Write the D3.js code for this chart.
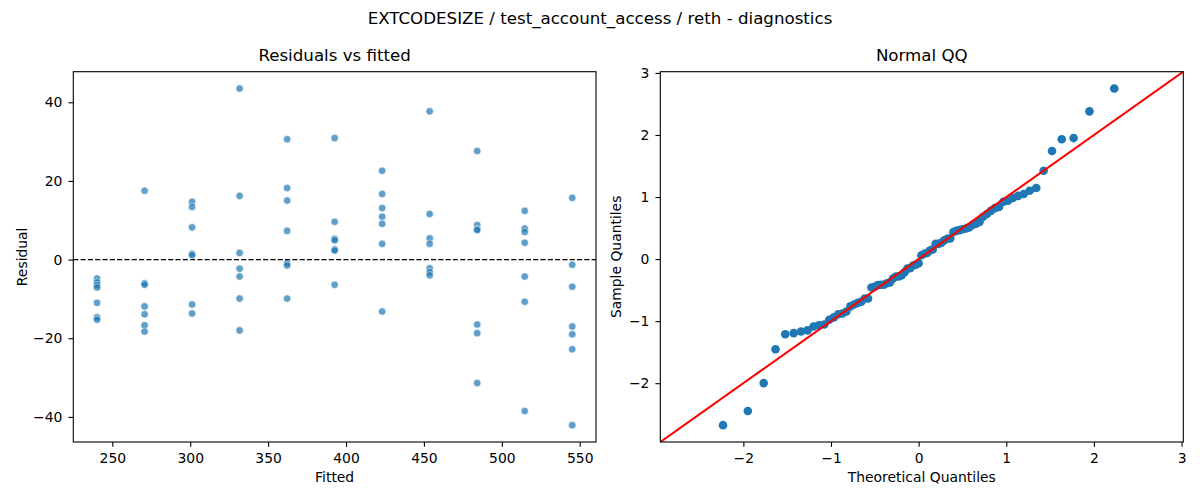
<!DOCTYPE html>
<html>
<head>
<meta charset="utf-8">
<script src="https://cdn.jsdelivr.net/npm/d3@7"></script>
<style>
  body { margin: 0; background: #fff; }
  text { font-family: "DejaVu Sans", sans-serif; fill: #000; }
</style>
</head>
<body>
<svg id="chart" width="1200" height="500"></svg>
<script>
// fitted values (one per group) and the residuals read for each group
var fitted = [240.2, 270.7, 301.2, 331.7, 362.2, 392.7, 423.2, 453.7, 484.2, 514.7, 545.2];
var residuals = [
  [-4.8, -5.8, -6.5, -7.1, -11.0, -14.7, -15.3],
  [17.5, -6.0, -6.4, -11.9, -13.9, -16.7, -18.3],
  [14.7, 13.4, 8.2, 1.5, 1.1, -11.4, -13.7],
  [43.5, 16.2, 1.7, -2.3, -4.3, -9.9, -18.0],
  [30.6, 18.2, 15.0, 7.3, -0.9, -1.5, -9.9],
  [30.9, 9.6, 5.3, 4.9, 2.6, 2.3, -6.4],
  [22.6, 16.7, 13.1, 10.9, 9.1, 4.0, -13.2],
  [37.7, 11.6, 5.4, 4.0, -2.2, -3.2, -4.0],
  [27.6, 8.8, 7.7, 7.5, -16.5, -18.7, -31.4],
  [12.4, 7.9, 7.0, 4.3, -4.3, -10.7, -38.5],
  [15.7, -1.3, -6.9, -17.0, -19.0, -22.8, -42.1]
];

// theoretical normal quantiles for n = 77 (plotting positions i/(n+1))
var theoretical = [
  -2.232, -1.949, -1.768, -1.633, -1.522, -1.426, -1.342, -1.267, -1.199, -1.135,
  -1.076, -1.020, -0.967, -0.917, -0.869, -0.824, -0.779, -0.736, -0.695, -0.654,
  -0.615, -0.577, -0.539, -0.502, -0.466, -0.431, -0.396, -0.361, -0.327, -0.293,
  -0.260, -0.227, -0.194, -0.161, -0.129, -0.097, -0.064, -0.032, 0.000,
  0.032, 0.064, 0.097, 0.129, 0.161, 0.194, 0.227, 0.260, 0.293, 0.327,
  0.361, 0.396, 0.431, 0.466, 0.502, 0.539, 0.577, 0.615, 0.654, 0.695,
  0.736, 0.779, 0.824, 0.869, 0.917, 0.967, 1.020, 1.076, 1.135, 1.199,
  1.267, 1.342, 1.426, 1.522, 1.633, 1.768, 1.949, 2.232
];

var title = "EXTCODESIZE / test_account_access / reth - diagnostics";

var svg = d3.select("#chart");
var tickLen = 4.86;
var fontTick = 13.9;
var fontTitle = 16.67;
var intFmt = d3.format("d");

// axes boxes, measured in the figure
var left = { x0: 73.3, x1: 596, y0: 71.7, y1: 442 };
var right = { x0: 660.3, x1: 1183.3, y0: 71.7, y1: 442 };

// matplotlib style 5% margins
function pad(ext) {
  var r = ext[1] - ext[0];
  return [ext[0] - 0.05 * r, ext[1] + 0.05 * r];
}

var points = [];
fitted.forEach(function(f, i) {
  residuals[i].forEach(function(r) { points.push({ fitted: f, resid: r }); });
});

svg.append("rect").attr("width", 1200).attr("height", 500).attr("fill", "#fff");

svg.append("text")
  .attr("x", 600).attr("y", 24)
  .attr("text-anchor", "middle")
  .style("font-size", fontTitle + "px")
  .text(title);

function drawAxes(box, x, y, xTicks, yTicks) {
  var g = svg.append("g");
  g.append("g")
    .attr("transform", "translate(0," + box.y1 + ")")
    .call(d3.axisBottom(x).tickValues(xTicks).tickFormat(intFmt)
      .tickSize(tickLen).tickPadding(6).tickSizeOuter(0))
    .call(function(a) { a.select(".domain").remove(); })
    .call(function(a) {
      a.selectAll("line").attr("stroke", "#000").attr("stroke-width", 1.1);
      a.selectAll("text").style("font-size", fontTick + "px")
        .style("font-family", "DejaVu Sans").attr("fill", "#000");
    });
  g.append("g")
    .attr("transform", "translate(" + box.x0 + ",0)")
    .call(d3.axisLeft(y).tickValues(yTicks).tickFormat(intFmt)
      .tickSize(tickLen).tickPadding(6).tickSizeOuter(0))
    .call(function(a) { a.select(".domain").remove(); })
    .call(function(a) {
      a.selectAll("line").attr("stroke", "#000").attr("stroke-width", 1.1);
      a.selectAll("text").style("font-size", fontTick + "px")
        .style("font-family", "DejaVu Sans").attr("fill", "#000");
    });
  return g;
}

function drawFrame(box) {
  svg.append("rect")
    .attr("x", box.x0).attr("y", box.y0)
    .attr("width", box.x1 - box.x0).attr("height", box.y1 - box.y0)
    .attr("fill", "none").attr("stroke", "#000").attr("stroke-width", 1.1);
}

////////////////////////////////////////////////////////////////////////
// Residuals vs fitted

var x1 = d3.scaleLinear()
  .domain(pad(d3.extent(points, function(d) { return d.fitted; })))
  .range([left.x0, left.x1]);
var y1 = d3.scaleLinear()
  .domain(pad(d3.extent(points, function(d) { return d.resid; })))
  .range([left.y1, left.y0]);

svg.append("clipPath").attr("id", "clipL").append("rect")
  .attr("x", left.x0).attr("y", left.y0)
  .attr("width", left.x1 - left.x0).attr("height", left.y1 - left.y0);

var gL = svg.append("g").attr("clip-path", "url(#clipL)");

gL.selectAll(".dot")
  .data(points)
  .enter()
  .append("circle")
  .attr("class", "dot")
  .attr("cx", function(d) { return x1(d.fitted); })
  .attr("cy", function(d) { return y1(d.resid); })
  .attr("r", 3.8)
  .attr("fill", "#1f77b4")
  .attr("stroke", "#fff")
  .attr("stroke-width", 0.7)
  .attr("opacity", 0.7);

gL.append("line")
  .attr("x1", left.x0).attr("x2", left.x1)
  .attr("y1", y1(0)).attr("y2", y1(0))
  .attr("stroke", "#000")
  .attr("stroke-width", 1.39)
  .attr("stroke-dasharray", "5.1 2.2");

drawAxes(left, x1, y1, x1.ticks(7), y1.ticks(5));
drawFrame(left);

svg.append("text")
  .attr("x", (left.x0 + left.x1) / 2).attr("y", 61)
  .attr("text-anchor", "middle")
  .style("font-size", fontTitle + "px")
  .text("Residuals vs fitted");

svg.append("text")
  .attr("x", (left.x0 + left.x1) / 2).attr("y", 482)
  .attr("text-anchor", "middle")
  .style("font-size", fontTick + "px")
  .text("Fitted");

svg.append("text")
  .attr("transform", "translate(27," + (left.y0 + left.y1) / 2 + ") rotate(-90)")
  .attr("text-anchor", "middle")
  .style("font-size", fontTick + "px")
  .text("Residual");

////////////////////////////////////////////////////////////////////////
// Normal QQ

var allResid = points.map(function(d) { return d.resid; });
var mu = d3.mean(allResid);
var sd = d3.deviation(allResid);
var sample = allResid.map(function(r) { return (r - mu) / sd; }).sort(d3.ascending);

var qq = sample.map(function(s, i) { return { t: theoretical[i], s: s }; });

var xe = pad(d3.extent(theoretical));
var ye = pad(d3.extent(sample));
var lims = [Math.min(xe[0], ye[0]), Math.max(xe[1], ye[1])];

var x2 = d3.scaleLinear().domain(lims).range([right.x0, right.x1]);
var y2 = d3.scaleLinear().domain(lims).range([right.y1, right.y0]);

svg.append("clipPath").attr("id", "clipR").append("rect")
  .attr("x", right.x0).attr("y", right.y0)
  .attr("width", right.x1 - right.x0).attr("height", right.y1 - right.y0);

var gR = svg.append("g").attr("clip-path", "url(#clipR)");

gR.selectAll(".qq")
  .data(qq)
  .enter()
  .append("circle")
  .attr("class", "qq")
  .attr("cx", function(d) { return x2(d.t); })
  .attr("cy", function(d) { return y2(d.s); })
  .attr("r", 4.3)
  .attr("fill", "#1f77b4");

gR.append("line")
  .attr("x1", x2(lims[0])).attr("y1", y2(lims[0]))
  .attr("x2", x2(lims[1])).attr("y2", y2(lims[1]))
  .attr("stroke", "#ff0000")
  .attr("stroke-width", 2.08);

drawAxes(right, x2, y2, x2.ticks(6), y2.ticks(6));
drawFrame(right);

svg.append("text")
  .attr("x", (right.x0 + right.x1) / 2).attr("y", 61)
  .attr("text-anchor", "middle")
  .style("font-size", fontTitle + "px")
  .text("Normal QQ");

svg.append("text")
  .attr("x", (right.x0 + right.x1) / 2).attr("y", 482)
  .attr("text-anchor", "middle")
  .style("font-size", fontTick + "px")
  .text("Theoretical Quantiles");

svg.append("text")
  .attr("transform", "translate(621," + (right.y0 + right.y1) / 2 + ") rotate(-90)")
  .attr("text-anchor", "middle")
  .style("font-size", fontTick + "px")
  .text("Sample Quantiles");
</script>
</body>
</html>
